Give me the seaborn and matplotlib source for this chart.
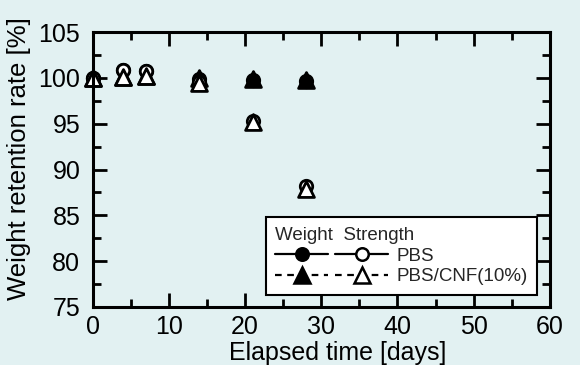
import matplotlib
matplotlib.use('Agg')
import matplotlib.pyplot as plt
from matplotlib.lines import Line2D
from matplotlib.legend_handler import HandlerTuple
from matplotlib.ticker import MultipleLocator
import seaborn as sns
import pandas as pd

# ---- data ----
days = [0, 4, 7, 14, 21, 28]
pbs_weight = [100.0, 100.9, 100.8, 99.9, 99.8, 99.7]
cnf_weight = [100.0, 100.1, 100.2, 100.0, 99.9, 99.8]
pbs_strength = [100.0, 100.9, 100.8, 99.6, 95.3, 88.2]
cnf_strength = [100.0, 100.1, 100.2, 99.4, 95.2, 87.9]

BG = '#e2f1f2'

sns.set_theme(style='ticks')
plt.rcParams['font.family'] = ['Liberation Sans', 'DejaVu Sans']

fig = plt.figure(figsize=(5.8, 3.65), dpi=100, facecolor=BG)
ax = fig.add_axes([0.160, 0.159, 0.788, 0.753])
ax.set_facecolor(BG)

series = [
    (pbs_weight, 'o', 'black', 80),
    (cnf_weight, '^', 'black', 130),
    (pbs_strength, 'o', 'white', 80),
    (cnf_strength, '^', 'white', 130),
]
for vals, mk, fc, size in series:
    df = pd.DataFrame({'day': days, 'val': vals})
    sns.scatterplot(data=df, x='day', y='val', marker=mk, s=size, color=fc,
                    edgecolor='black', linewidth=2.0, clip_on=False, ax=ax,
                    legend=False)

ax.set_xlim(0, 60)
ax.set_ylim(75, 105)
ax.xaxis.set_major_locator(MultipleLocator(10))
ax.xaxis.set_minor_locator(MultipleLocator(5))
ax.yaxis.set_major_locator(MultipleLocator(5))
ax.yaxis.set_minor_locator(MultipleLocator(2.5))
ax.tick_params(which='both', direction='in', top=True, right=True,
               width=2, color='black', labelsize=18, labelcolor='black')
ax.tick_params(which='major', length=10)
ax.tick_params(which='minor', length=5.5)
ax.tick_params(axis='y', pad=9)
ax.tick_params(axis='x', pad=6)
for sp in ax.spines.values():
    sp.set_linewidth(2.2)
    sp.set_color('black')

ax.set_xlabel('Elapsed time [days]', fontsize=18, color='black')
ax.xaxis.set_label_coords(0.536, -0.125)
ax.set_ylabel('Weight retention rate [%]', fontsize=18.5, color='black')
ax.yaxis.set_label_coords(-0.135, 0.54)

# legend: weight (filled) and strength (open) handles side by side
def hnd(mk, fc, ls, ms):
    return Line2D([], [], color='black', lw=1.6, ls=ls, marker=mk, ms=ms,
                  mfc=fc, mec='black', mew=1.8)

handles = [
    (hnd('o', 'black', '-', 9), hnd('o', 'white', '-', 9)),
    (hnd('^', 'black', (0, (3, 2.5)), 12), hnd('^', 'white', (0, (3, 2.5)), 12)),
]
labels = ['PBS', 'PBS/CNF(10%)']
leg = ax.legend(handles, labels, handler_map={tuple: HandlerTuple(ndivide=None, pad=0.4)},
                loc='lower right', bbox_to_anchor=(0.972, 0.044), borderaxespad=0,
                fontsize=13.5, title='Weight  Strength', title_fontsize=13.5,
                alignment='left', handlelength=6.0, handletextpad=0.45,
                labelspacing=0.2, borderpad=0.5, numpoints=1,
                fancybox=False, framealpha=1, facecolor='white', edgecolor='black')
leg.get_frame().set_linewidth(1.5)

fig.savefig('out.png', dpi=100, facecolor=BG)
